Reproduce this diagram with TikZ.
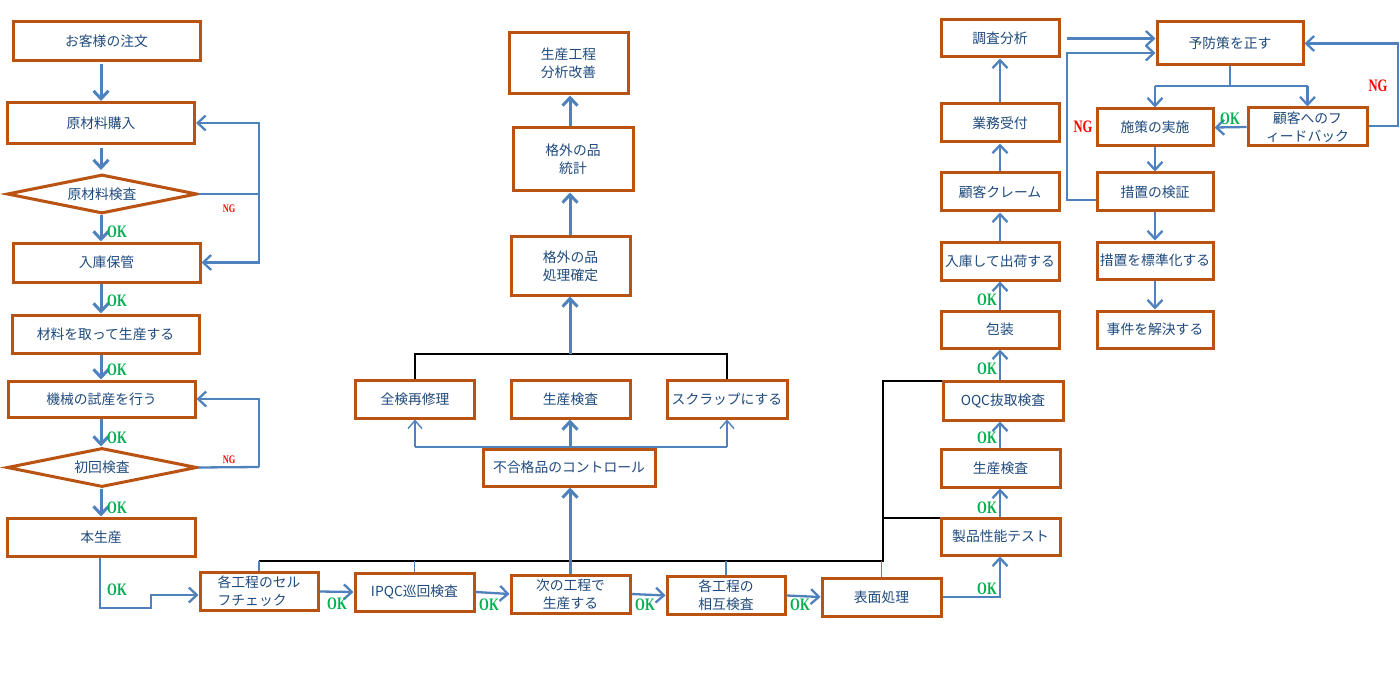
\documentclass[tikz,border=0pt]{standalone}
\usepackage{fontspec}
\usepackage{graphicx}
\newfontfamily\jpf{Noto Sans CJK JP}
\newfontfamily\lserif{Liberation Serif}
\usetikzlibrary{arrows.meta,shapes.geometric,calc}
\definecolor{boxc}{HTML}{BA5212}
\definecolor{linec}{HTML}{4F81BD}
\definecolor{txtc}{HTML}{1F4A7D}
\definecolor{okc}{HTML}{00B050}
\definecolor{ngc}{HTML}{FF0000}
\newcommand\OKt{\scalebox{0.72}[1]{OK}}
\newcommand\NGt{\scalebox{0.72}[1]{NG}}
\begin{document}
\begin{tikzpicture}[x=1pt,y=-1pt,
 box/.style={draw=boxc, line width=3pt, fill=white, inner sep=1pt, text=txtc, align=center,
   font=\jpf\fontsize{13.8}{18}\selectfont},
 wh/.style n args={2}{minimum width=#1pt, minimum height=#2pt},
 dia/.style={diamond, draw=boxc, line width=3pt, fill=white, inner sep=0pt, aspect=4.9, text=txtc,
   font=\jpf\fontsize{13.8}{18}\selectfont},
 arr/.style={draw=linec, line width=3pt, -{Straight Barb[length=8pt,width=15pt]}},
 marr/.style={draw=linec, line width=2.3pt, -{Straight Barb[length=8pt,width=15pt]}},
 tarr/.style={draw=linec, line width=1.4pt, -{Straight Barb[length=8pt,width=14pt]}},
 tline/.style={draw=linec, line width=1.4pt},
 mline/.style={draw=linec, line width=2.3pt},
 bline/.style={draw=black, line width=1.1pt},
 ok/.style={font=\lserif\bfseries\fontsize{17.5}{17}\selectfont, text=okc, inner sep=0pt},
 ngb/.style={font=\lserif\bfseries\fontsize{17.5}{17}\selectfont, text=ngc, inner sep=0pt},
 ngs/.style={font=\lserif\bfseries\fontsize{11.5}{12}\selectfont, text=ngc, inner sep=0pt},
]
\useasboundingbox (0,0) rectangle (1400,679);

% ---------- left column ----------
\node[box, wh={187}{39}] (order) at (106.5,41) {お客様の注文};
\node[box, wh={187}{41}] (buy) at (101,123) {原材料購入};
\node[dia, minimum width=190pt, minimum height=39pt] (chk1) at (102,194) {原材料検査};
\node[box, wh={187}{39}] (store) at (106.5,262.5) {入庫保管};
\node[box, wh={187}{38}] (take) at (105.5,334) {材料を取って生産する};
\node[box, wh={187}{36}] (trial) at (101.5,399) {機械の試産を行う};
\node[dia, minimum width=190pt, minimum height=39pt] (chk2) at (102,467.5) {初回検査};
\node[box, wh={188}{38}] (mass) at (101,537) {本生産};

% ---------- bottom row ----------
\node[box, wh={118}{38}, align=left] (self) at (259,591.5) {各工程のセル\\フチェック};
\node[box, wh={119}{38}] (ipqc) at (414.5,592) {IPQC巡回検査};
\node[box, wh={119}{38}] (next) at (570.5,594) {次の工程で\\生産する};
\node[box, wh={118}{38}] (mutual) at (726,595.5) {各工程の\\相互検査};
\node[box, wh={119}{38}] (surf) at (881.5,597) {表面処理};

% ---------- middle ----------
\node[box, wh={172}{37}] (ctrl) at (569,467.5) {不合格品のコントロール};
\node[box, wh={119}{38}] (rework) at (415,399) {全検再修理};
\node[box, wh={119}{38}] (prodchk) at (570.5,399) {生産検査};
\node[box, wh={120}{38}] (scrap) at (727,399) {スクラップにする};
\node[box, wh={119}{58}] (decide) at (570.5,266) {格外の品\\処理確定};
\node[box, wh={120}{63}] (stat) at (573,159.5) {格外の品\\統計};
\node[box, wh={119}{61}] (improve) at (568.5,63.5) {生産工程\\分析改善};

% ---------- right column 1 ----------
\node[box, wh={118}{37}] (analysis) at (1000,38.5) {調査分析};
\node[box, wh={118}{38}] (accept) at (1000,123) {業務受付};
\node[box, wh={118}{38}] (claim) at (1000,192) {顧客クレーム};
\node[box, wh={118}{38}] (ship) at (1000,261) {入庫して出荷する};
\node[box, wh={118}{37}] (pack) at (1000,329.5) {包装};
\node[box, wh={120}{39}] (oqc) at (1003,400.5) {OQC抜取検査};
\node[box, wh={119}{38}] (fchk) at (1000.5,468) {生産検査};
\node[box, wh={119}{37}] (perf) at (1000.5,536.5) {製品性能テスト};

% ---------- right column 2 ----------
\node[box, wh={146}{43}] (prev) at (1230,43.5) {予防策を正す};
\node[box, wh={116}{37}] (impl) at (1155,127.5) {施策の実施};
\node[box, wh={119}{38}] (fb) at (1307.5,127) {顧客へのフ\\ィードバック};
\node[box, wh={116}{38}] (verify) at (1155,192) {措置の検証};
\node[box, wh={116}{37}] (std) at (1155,260.5) {措置を標準化する};
\node[box, wh={116}{37}] (solve) at (1155,329.5) {事件を解決する};

% ---------- coordinates ----------
\coordinate (lc) at (101,0);
\coordinate (mc) at (570,0);
\coordinate (rc) at (1000,0);
\coordinate (ngA) at (259,194);
\coordinate (ngB) at (259,467);
\coordinate (m1) at (100,608);
\coordinate (m2) at (151,608);
\coordinate (m3) at (151,595);
\coordinate (sp) at (1000,597);
\coordinate (br) at (570,447);
\coordinate (bk) at (570,354);
\coordinate (t0) at (259,561);
\coordinate (t1) at (883,561);
\coordinate (t2) at (883,381);
\coordinate (t3) at (883,518);
\coordinate (v1) at (1067,200);
\coordinate (v2) at (1067,53);
\coordinate (sp2) at (1230,86);
\coordinate (f1) at (1398,126);

% ---------- left column connectors ----------
\draw[arr, shorten <=2pt] (order.south -| lc) -- (buy.north -| lc);
\draw[arr, shorten <=3pt, shorten >=3pt] (buy.south -| lc) -- (chk1.north -| lc);
\draw[arr] (chk1.south -| lc) -- (store.north -| lc);
\draw[arr] (store.south -| lc) -- (take.north -| lc);
\draw[arr] (take.south -| lc) -- (trial.north -| lc);
\draw[arr] (trial.south -| lc) -- (chk2.north -| lc);
\draw[arr] (chk2.south -| lc) -- (mass.north -| lc);
\draw[mline] (chk1.east) -- (ngA);
\draw[marr] (ngA) |- (buy.east);
\draw[marr] (ngA) |- (store.east);
\draw[mline] (chk2.east) -- (ngB);
\draw[marr] (ngB) |- (trial.east);
\draw[marr] (mass.south -| m1) -- (m1) -- (m2) -- (m3) -- (self.west |- m3);

% ---------- bottom row connectors ----------
\draw[marr] (self.east) -- (ipqc.west);
\draw[marr] (ipqc.east) -- (next.west);
\draw[marr] (next.east) -- (mutual.west);
\draw[marr] (mutual.east) -- (surf.west);
\draw[marr] (surf.east) -- (sp) -- (perf.south -| sp);

% ---------- black tree ----------
\draw[bline] (t0) -- (t1) -- (t2) -- (t2 -| oqc.west);
\draw[bline] (t3) -- (t3 -| perf.west);
\draw[tline] (self.north) -- (self.north |- t0);
\draw[tline] (ipqc.north) -- (ipqc.north |- t0);
\draw[tline] (mutual.north) -- (mutual.north |- t0);
\draw[tline] (surf.north) -- (surf.north |- t0);

% ---------- middle connectors ----------
\draw[arr] (next.north -| mc) -- (ctrl.south -| mc);
\draw[tline] (br -| rework) -- (br -| scrap);
\draw[tarr] (br -| rework) -- (rework.south);
\draw[tarr] (br -| scrap) -- (scrap.south);
\draw[arr] (br) -- (prodchk.south -| br);
\draw[bline] (rework.north) -- (rework.north |- bk) -- (scrap.north |- bk) -- (scrap.north);
\draw[arr] (bk) -- (decide.south -| bk);
\draw[arr] (decide.north -| mc) -- (stat.south -| mc);
\draw[arr] (stat.north -| mc) -- (improve.south -| mc);

% ---------- right column 1 connectors ----------
\draw[marr] (perf.north -| rc) -- (fchk.south -| rc);
\draw[marr] (fchk.north -| rc) -- (oqc.south -| rc);
\draw[marr] (oqc.north -| rc) -- (pack.south -| rc);
\draw[marr] (pack.north -| rc) -- (ship.south -| rc);
\draw[marr] (ship.north -| rc) -- (claim.south -| rc);
\draw[marr] (claim.north -| rc) -- (accept.south -| rc);
\draw[marr] (accept.north -| rc) -- (analysis.south -| rc);

% ---------- right column 2 connectors ----------
\draw[marr, shorten <=6pt] (analysis.east) -- (analysis.east -| prev.west);
\draw[marr] (verify.west |- v1) -- (v1) -- (v2) -- (prev.west |- v2);
\draw[mline] (prev.south -| sp2) -- (sp2);
\draw[mline] (impl.north |- sp2) -- (fb.north |- sp2);
\draw[marr] (impl.north |- sp2) -- (impl.north);
\draw[marr] (fb.north |- sp2) -- (fb.north);
\draw[marr] (fb.west) -- (impl.east);
\draw[marr] (fb.east |- f1) -- (f1) -- (f1 |- prev.east) -- (prev.east);
\draw[marr] (impl.south) -- (verify.north);
\draw[marr] (verify.south) -- (std.north);
\draw[marr] (std.south) -- (solve.north);

% ---------- labels ----------
\node[ok] (ok1) at (117,232) {\OKt};
\node[ok] (ok2) at (117,301) {\OKt};
\node[ok] (ok3) at (117,370) {\OKt};
\node[ok] (ok4) at (117,438) {\OKt};
\node[ok] (ok5) at (117,508) {\OKt};
\node[ok] (ok6) at (117,590) {\OKt};
\node[ok] (ok7) at (337,604) {\OKt};
\node[ok] (ok8) at (489,605) {\OKt};
\node[ok] (ok9) at (645,605) {\OKt};
\node[ok] (ok10) at (800,605) {\OKt};
\node[ok] (ok11) at (987,589) {\OKt};
\node[ok] (ok12) at (987,508) {\OKt};
\node[ok] (ok13) at (987,438) {\OKt};
\node[ok] (ok14) at (987,369) {\OKt};
\node[ok] (ok15) at (987,300) {\OKt};
\node[ok] (ok16) at (1230,119) {\OKt};
\node[ngs] (ng1) at (229,209) {\NGt};
\node[ngs] (ng2) at (229,460) {\NGt};
\node[ngb] (ng3) at (1083,127) {\NGt};
\node[ngb] (ng4) at (1378,86) {\NGt};
\end{tikzpicture}
\end{document}
